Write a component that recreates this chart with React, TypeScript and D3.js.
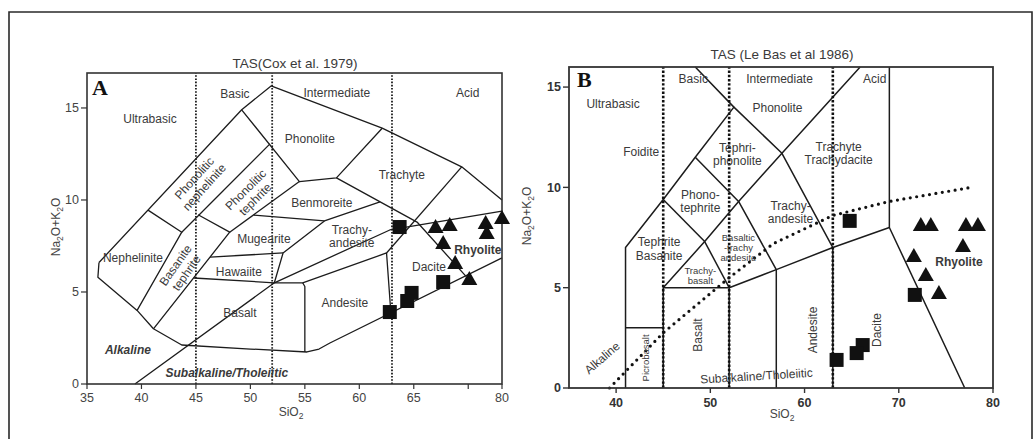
import React from 'react';
import * as d3 from 'd3';

type Pt = [number, number];

// ---------------- Panel A : TAS (Cox et al. 1979) ----------------
const aTitle = 'TAS(Cox et al. 1979)';
const aXTickValues = [35, 40, 45, 50, 55, 60, 65, 70, 73.1];
const aXTickLabels = ['35', '40', '45', '50', '55', '60', '65', '', '80'];
const aYTickValues = [0, 5, 10, 15];
const aDividers = [45, 52, 63];
const aBoundaries: Pt[][] = [
  [[36.1, 6.6], [49.2, 14.9], [51.9, 16.2], [62.1, 13.9], [69.4, 11.8], [73.1, 10.0]],
  [[36.1, 6.6], [36.0, 5.8], [39.6, 4.0], [41.1, 3.0], [43.7, 2.12], [50, 1.9], [55.2, 1.74], [56.3, 1.9], [57.3, 2.23], [73.1, 6.85]],
  [[40.6, 9.45], [43.7, 8.25], [39.6, 4.0]],
  [[43.7, 8.25], [51.8, 13.05]],
  [[45.2, 9.2], [48.1, 8.25], [41.1, 3.0]],
  [[48.1, 8.25], [54.5, 11.0]],
  [[49.2, 14.9], [54.5, 11.0], [57.9, 11.2], [62.1, 13.9]],
  [[46.3, 6.9], [53.0, 7.12]],
  [[44.8, 5.76], [52.2, 5.5], [54.8, 5.5], [62.5, 7.12], [62.9, 3.86]],
  [[54.8, 5.5], [55.0, 5.3], [55.0, 1.74]],
  [[52.2, 5.5], [53.0, 7.12], [56.8, 8.86], [61.9, 9.9]],
  [[50.3, 9.18], [56.8, 8.86]],
  [[57.9, 11.2], [65.3, 8.8], [69.8, 5.85]],
  [[69.4, 11.8], [62.5, 7.12]],
  [[39.4, 0], [52.2, 5.5], [62.8, 8.37], [73.1, 9.4]],
];
const aSquares: Pt[] = [[63.7, 8.53], [67.7, 5.54], [64.8, 4.95], [64.4, 4.51], [62.8, 3.91]];
const aTriangles: Pt[] = [[67.0, 8.59], [68.3, 8.7], [67.7, 7.72], [68.8, 6.63], [70.1, 5.76], [71.6, 8.8], [71.7, 8.26], [73.1, 9.08]];

const aFieldNames = [
  { t: ['Ultrabasic'], at: [40.78, 14.4] as Pt },
  { t: ['Basic'], at: [48.58, 15.76] as Pt },
  { t: ['Intermediate'], at: [57.94, 15.82] as Pt },
  { t: ['Acid'], at: [69.95, 15.82] as Pt },
  { t: ['Phonolite'], at: [55.46, 13.32] as Pt },
  { t: ['Trachyte'], at: [63.9, 11.36] as Pt },
  { t: ['Benmoreite'], at: [56.56, 9.84] as Pt },
  { t: ['Mugearite'], at: [51.24, 7.88] as Pt },
  { t: ['Hawaiite'], at: [48.94, 6.09] as Pt },
  { t: ['Basalt'], at: [49.04, 3.86] as Pt },
  { t: ['Nephelinite'], at: [39.22, 6.85] as Pt },
  { t: ['Trachy-', 'andesite'], at: [59.31, 8.04] as Pt },
  { t: ['Andesite'], at: [58.67, 4.4] as Pt },
  { t: ['Dacite'], at: [66.4, 6.36] as Pt },
  { t: ['Phonolitic', 'nephelinite'], at: [45.3, 10.95] as Pt, rot: -48 },
  { t: ['Phonolitic', 'tephrite'], at: [50.0, 10.3] as Pt, rot: -45 },
  { t: ['Basanite', 'tephrite'], at: [43.62, 6.25] as Pt, rot: -55 },
];
const aBoldNames = [{ t: 'Rhyolite', at: [70.88, 7.28] as Pt }];
const aSeriesNames = [
  { t: 'Alkaline', at: [38.76, 1.85] as Pt },
  { t: 'Subalkaline/Tholeiitic', at: [47.84, 0.6] as Pt },
];

// ---------------- Panel B : TAS (Le Bas et al. 1986) ----------------
const bTitle = 'TAS (Le Bas et al 1986)';
const bXTickValues = [40, 50, 60, 70, 80];
const bYTickValues = [0, 5, 10, 15];
const bDividers = [45, 52, 63];
const bBoundaries: Pt[][] = [
  [[41, 0], [41, 7], [45, 9.4], [48.4, 11.5], [52.5, 14], [48.4, 16]],
  [[41, 3], [45, 3]],
  [[45, 0], [45, 5], [52, 5], [52, 0]],
  [[45, 9.4], [49.4, 7.3]],
  [[45, 5], [49.4, 7.3], [53, 9.3], [57.6, 11.7], [65.9, 16]],
  [[49.4, 7.3], [52, 5]],
  [[48.4, 11.5], [53, 9.3], [57, 5.9]],
  [[52.5, 14], [57.6, 11.7], [63, 7]],
  [[52, 5], [57, 5.9], [63, 7], [69, 8], [77, 0]],
  [[57, 0], [57, 5.9]],
  [[63, 0], [63, 7]],
  [[69, 8], [69, 16]],
];
const bAlkalineDivide: Pt[] = [[39.3, 0], [45, 2.75], [52, 5.5], [56.7, 7.2], [63, 8.6], [69, 9.3], [77.7, 10]];
const bSquares: Pt[] = [[64.79, 8.33], [71.7, 4.64], [66.17, 2.14], [65.53, 1.74], [63.4, 1.4]];
const bTriangles: Pt[] = [[72.34, 8.18], [73.4, 8.18], [77.13, 8.18], [78.4, 8.18], [76.81, 7.13], [71.6, 6.63], [72.87, 5.68], [74.26, 4.79]];

const bFieldNames = [
  { t: ['Ultrabasic'], at: [39.68, 14.16] as Pt },
  { t: ['Basic'], at: [48.19, 15.4] as Pt },
  { t: ['Intermediate'], at: [57.34, 15.4] as Pt },
  { t: ['Acid'], at: [67.45, 15.4] as Pt },
  { t: ['Phonolite'], at: [57.13, 13.96] as Pt },
  { t: ['Foidite'], at: [42.66, 11.76] as Pt },
  { t: ['Tephri-', 'phonolite'], at: [52.87, 11.64] as Pt },
  { t: ['Trachyte', 'Trachydacite'], at: [63.62, 11.71] as Pt },
  { t: ['Phono-', 'tephrite'], at: [48.94, 9.32] as Pt },
  { t: ['Trachy-', 'andesite'], at: [58.51, 8.77] as Pt },
  { t: ['Tephrite', 'Basanite'], at: [44.57, 6.93] as Pt },
  { t: ['Andesite'], at: [60.85, 2.89] as Pt, rot: -90 },
  { t: ['Dacite'], at: [67.66, 2.89] as Pt, rot: -90 },
  { t: ['Basalt'], at: [48.62, 2.64] as Pt, rot: -90 },
  { t: ['Alkaline'], at: [38.51, 1.5] as Pt, rot: -41 },
  { t: ['Subalkaline/Tholeiitic'], at: [54.89, 0.6] as Pt, rot: -3.5 },
];
const bSmallNames = [
  { t: ['Basaltic', '-trachy', 'andesite'], at: [52.98, 6.98] as Pt },
  { t: ['Trachy-', 'basalt'], at: [48.94, 5.58] as Pt },
  { t: ['Picrobasalt'], at: [43.09, 1.5] as Pt, rot: -90 },
];
const bBoldNames = [{ t: 'Rhyolite', at: [76.38, 6.28] as Pt }];

const FONT = "'Liberation Sans', Arial, Helvetica, sans-serif";
const TXT = '#3a3a3a';
const INK = '#1c1c1c';

function Lbl({ x, y, lines, size = 12, weight = 'normal', fstyle = 'normal', rot = 0, lh }: any) {
  const h = lh ?? size * 1.12;
  const n = lines.length;
  return (
    <text transform={`translate(${x},${y}) rotate(${rot})`} textAnchor="middle" fontSize={size}
      fontWeight={weight} fontStyle={fstyle} fill={TXT} fontFamily={FONT}>
      {lines.map((t: string, i: number) => (
        <tspan key={i} x={0} y={(i - (n - 1) / 2) * h} dy="0.35em">{t}</tspan>
      ))}
    </text>
  );
}

function triPath(cx: number, cy: number, w = 16, h = 14) {
  return `M${cx},${cy - h / 2}L${cx + w / 2},${cy + h / 2}L${cx - w / 2},${cy + h / 2}Z`;
}

export default function App() {
  const xA = d3.scaleLinear().domain([35, 73.1]).range([87, 502]);
  const yA = d3.scaleLinear().domain([0, 16.9]).range([384, 73]);
  const xB = d3.scaleLinear().domain([35, 80]).range([569, 993]);
  const yB = d3.scaleLinear().domain([0, 16]).range([388, 67]);
  const lineA = d3.line<Pt>().x(d => xA(d[0])).y(d => yA(d[1]));
  const lineB = d3.line<Pt>().x(d => xB(d[0])).y(d => yB(d[1]));

  const [ax0, ax1] = xA.range();
  const [ay0, ay1] = yA.range();
  const [bx0, bx1] = xB.range();
  const [by0, by1] = yB.range();

  return (
    <svg width={1034} height={439} style={{ position: 'absolute', left: 0, top: 0, background: '#fff' }}
      fontFamily={FONT}>
      <rect x={0} y={0} width={1034} height={439} fill="#fff" />
      {/* outer frame */}
      <path d="M9,440V12H1032V440" fill="none" stroke="#2a2a2a" strokeWidth={1.6} />

      {/* ================= Panel A ================= */}
      <text x={295} y={68} textAnchor="middle" fontSize={13.5} fill={TXT}>{aTitle}</text>
      {aDividers.map(v => (
        <line key={v} x1={xA(v)} x2={xA(v)} y1={ay0} y2={ay1} stroke={INK} strokeWidth={1.8} strokeDasharray="1.6,1.6" />
      ))}
      {aBoundaries.map((b, i) => (
        <path key={i} d={lineA(b) || ''} fill="none" stroke={INK} strokeWidth={1.3} strokeLinejoin="round" />
      ))}
      <rect x={ax0} y={ay1} width={ax1 - ax0} height={ay0 - ay1} fill="none" stroke="#333" strokeWidth={1.6} />
      {aXTickValues.map(v => (
        <line key={v} x1={xA(v)} x2={xA(v)} y1={ay0} y2={ay0 + 5} stroke="#333" strokeWidth={1.2} />
      ))}
      {aXTickValues.map((v, i) => (
        <text key={v} x={xA(v)} y={ay0 + 18} textAnchor="middle" fontSize={12.5} fill="#444">{aXTickLabels[i]}</text>
      ))}
      {aYTickValues.map(v => (
        <g key={v}>
          <line x1={ax0 - 6} x2={ax0} y1={yA(v)} y2={yA(v)} stroke="#333" strokeWidth={1.2} />
          <text x={ax0 - 8} y={yA(v)} dy="0.35em" textAnchor="end" fontSize={12.5} fill="#444">{v}</text>
        </g>
      ))}
      <text transform="translate(60,227) rotate(-90)" textAnchor="middle" fontSize={12} fill="#444">
        Na<tspan dy={3} fontSize={8.5}>2</tspan><tspan dy={-3}>O+K</tspan><tspan dy={3} fontSize={8.5}>2</tspan><tspan dy={-3}>O</tspan>
      </text>
      <text x={291} y={416} textAnchor="middle" fontSize={12} fill="#444">
        SiO<tspan dy={3} fontSize={8.5}>2</tspan>
      </text>
      <text x={92} y={95} fontSize={22} fontWeight="bold" fontFamily="'Liberation Serif', 'Times New Roman', serif" fill="#111">A</text>
      {aFieldNames.map((f, i) => (
        <Lbl key={i} x={xA(f.at[0])} y={yA(f.at[1])} lines={f.t} rot={f.rot || 0} size={12} />
      ))}
      {aBoldNames.map((f, i) => (
        <Lbl key={i} x={xA(f.at[0])} y={yA(f.at[1])} lines={[f.t]} size={12} weight="bold" />
      ))}
      {aSeriesNames.map((f, i) => (
        <Lbl key={i} x={xA(f.at[0])} y={yA(f.at[1])} lines={[f.t]} size={12} weight="bold" fstyle="italic" />
      ))}
      {aSquares.map((d, i) => (
        <rect key={i} x={xA(d[0]) - 7} y={yA(d[1]) - 7} width={14} height={14} fill="#111" />
      ))}
      {aTriangles.map((d, i) => (
        <path key={i} d={triPath(xA(d[0]), yA(d[1]))} fill="#111" />
      ))}

      {/* ================= Panel B ================= */}
      <text x={782} y={59} textAnchor="middle" fontSize={13.5} fill={TXT}>{bTitle}</text>
      {bBoundaries.map((b, i) => (
        <path key={i} d={lineB(b) || ''} fill="none" stroke={INK} strokeWidth={1.5} strokeLinejoin="round" />
      ))}
      {bDividers.map(v => (
        <line key={v} x1={xB(v)} x2={xB(v)} y1={by0} y2={by1} stroke="#111" strokeWidth={2.6} strokeDasharray="2.4,1.8" />
      ))}
      <path d={lineB(bAlkalineDivide) || ''} fill="none" stroke="#111" strokeWidth={3.2} strokeDasharray="0,6.5" strokeLinecap="round" />
      <rect x={bx0} y={by1} width={bx1 - bx0} height={by0 - by1} fill="none" stroke="#333" strokeWidth={1.8} />
      {bXTickValues.map(v => (
        <g key={v}>
          <line x1={xB(v)} x2={xB(v)} y1={by0} y2={by0 + 5} stroke="#333" strokeWidth={1.4} />
          <text x={xB(v)} y={by0 + 19} textAnchor="middle" fontSize={12.5} fontWeight="bold" fill="#333">{v}</text>
        </g>
      ))}
      {bYTickValues.map(v => (
        <g key={v}>
          <line x1={bx0 - 6} x2={bx0} y1={yB(v)} y2={yB(v)} stroke="#333" strokeWidth={1.4} />
          <text x={bx0 - 8} y={yB(v)} dy="0.35em" textAnchor="end" fontSize={12.5} fontWeight="bold" fill="#333">{v}</text>
        </g>
      ))}
      <text transform="translate(531,216) rotate(-90)" textAnchor="middle" fontSize={12} fill="#444">
        Na<tspan dy={3} fontSize={8.5}>2</tspan><tspan dy={-3}>O+K</tspan><tspan dy={3} fontSize={8.5}>2</tspan><tspan dy={-3}>O</tspan>
      </text>
      <text x={782} y={418} textAnchor="middle" fontSize={12} fill="#444">
        SiO<tspan dy={3} fontSize={8.5}>2</tspan>
      </text>
      <text x={577} y={87} fontSize={22} fontWeight="bold" fontFamily="'Liberation Serif', 'Times New Roman', serif" fill="#111">B</text>
      {bFieldNames.map((f, i) => (
        <Lbl key={i} x={xB(f.at[0])} y={yB(f.at[1])} lines={f.t} rot={f.rot || 0} size={12} />
      ))}
      {bSmallNames.map((f, i) => (
        <Lbl key={i} x={xB(f.at[0])} y={yB(f.at[1])} lines={f.t} rot={f.rot || 0} size={9.5} lh={10} />
      ))}
      {bBoldNames.map((f, i) => (
        <Lbl key={i} x={xB(f.at[0])} y={yB(f.at[1])} lines={[f.t]} size={12} weight="bold" />
      ))}
      {bSquares.map((d, i) => (
        <rect key={i} x={xB(d[0]) - 7} y={yB(d[1]) - 7} width={14} height={14} fill="#111" />
      ))}
      {bTriangles.map((d, i) => (
        <path key={i} d={triPath(xB(d[0]), yB(d[1]))} fill="#111" />
      ))}
    </svg>
  );
}
